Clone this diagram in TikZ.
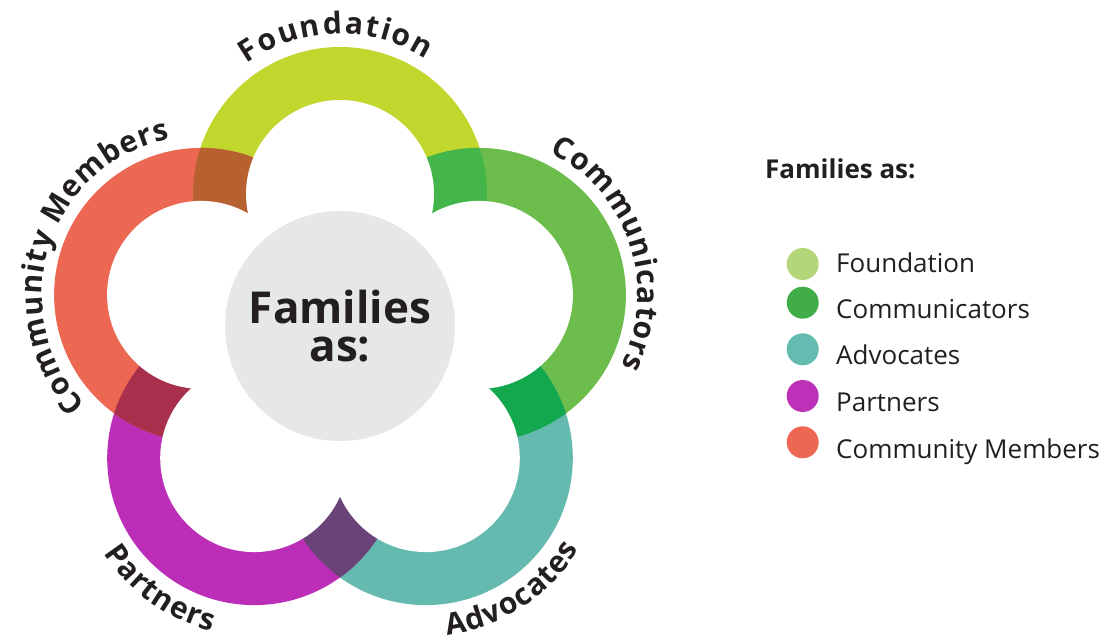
\documentclass[tikz,border=0pt]{standalone}
\usepackage{fontspec}
\setmainfont{Open Sans}
\IfFontExistsTF{Open Sans SemiBold}{\newfontfamily\semib{Open Sans SemiBold}}{\newcommand\semib{\bfseries}}
\usetikzlibrary{decorations.text}
\definecolor{cF}{HTML}{C1D72E}
\definecolor{cC}{HTML}{6CBD4B}
\definecolor{cA}{HTML}{64BAAF}
\definecolor{cP}{HTML}{BC2EB8}
\definecolor{cM}{HTML}{EC6852}
\definecolor{oFC}{HTML}{43B549}
\definecolor{oCA}{HTML}{13A84E}
\definecolor{oAP}{HTML}{6A4379}
\definecolor{oPM}{HTML}{A8304D}
\definecolor{oMF}{HTML}{B86130}
\definecolor{lF}{HTML}{B3D67B}
\definecolor{lC}{HTML}{41AD49}
\definecolor{lA}{HTML}{66BBB0}
\definecolor{lP}{HTML}{BD31B9}
\definecolor{lM}{HTML}{EC6852}
\definecolor{grayc}{HTML}{E6E7E8}
\definecolor{txt}{HTML}{231F20}
\newcommand\lblfont{\semib\fontsize{30}{36}\selectfont}
\begin{document}
\begin{tikzpicture}[x=1pt,y=1pt,
  lbl/.style={decorate,decoration={text along path,text={#1},text align=fit to path,text color=txt}},
  legdot/.style={circle,inner sep=0pt,minimum size=32},
  legtxt/.style={anchor=base west,inner sep=0pt,text=txt,font=\fontsize{26}{30}\selectfont}]
\useasboundingbox (0,0) rectangle (1110,642);
\coordinate (P) at (340,302);
\coordinate (L) at (340,448);
\coordinate (G) at (478.9,347.1);
\coordinate (T) at (425.8,183.9);
\coordinate (U) at (254.2,183.9);
\coordinate (R) at (201.1,347.1);
% outer disks
\fill[cF] (L) circle[radius=147];
\fill[cC] (G) circle[radius=147];
\fill[cA] (T) circle[radius=147];
\fill[cP] (U) circle[radius=147];
\fill[cM] (R) circle[radius=147];
% overlaps
\begin{scope}\clip (L) circle[radius=147]; \fill[oFC] (G) circle[radius=147];\end{scope}
\begin{scope}\clip (G) circle[radius=147]; \fill[oCA] (T) circle[radius=147];\end{scope}
\begin{scope}\clip (T) circle[radius=147]; \fill[oAP] (U) circle[radius=147];\end{scope}
\begin{scope}\clip (U) circle[radius=147]; \fill[oPM] (R) circle[radius=147];\end{scope}
\begin{scope}\clip (R) circle[radius=147]; \fill[oMF] (L) circle[radius=147];\end{scope}
% holes
\foreach \c in {L,G,T,U,R} \fill[white] (\c) circle[radius=94];
% centre
\fill[grayc] (340,316) circle[radius=115];
\node[anchor=base,inner sep=0pt,text=txt,font=\semib\fontsize{44}{44}\selectfont] (fam) at (340,318) {Families};
\node[anchor=base,inner sep=0pt,text=txt,font=\semib\fontsize{44}{44}\selectfont] (as) at (340,280.3) {as:};
% curved labels
\path[lbl={|\lblfont|Foundation}] ([shift={(125.5:160)}]L) arc[start angle=125.5,end angle=57.5,radius=160];
\path[lbl={|\lblfont|Communicators}] ([shift={(63.5:159)}]G) arc[start angle=63.5,end angle=-26.7,radius=159];
\path[lbl={|\lblfont|Community Members}] ([shift={(223.6:159)}]R) arc[start angle=223.6,end angle=101.4,radius=159];
\path[lbl={|\lblfont|Advocates}] ([shift={(-83:178)}]T) arc[start angle=-83,end angle=-30.7,radius=178];
\path[lbl={|\lblfont|Partners}] ([shift={(212.4:178)}]U) arc[start angle=212.4,end angle=256.3,radius=178];
% legend
\node[anchor=base west,inner sep=0pt,text=txt,font=\semib\fontsize{26}{30}\selectfont] (title) at (765,463.7) {Families as:};
\node[legdot,fill=lF] (d1) at (802.7,378) {};
\node[legdot,fill=lC] (d2) at (802.7,339.3) {};
\node[legdot,fill=lA] (d3) at (802.7,292.7) {};
\node[legdot,fill=lP] (d4) at (802.7,246) {};
\node[legdot,fill=lM] (d5) at (802.7,199.7) {};
\node[legtxt] (t1) at (836,369.7) {Foundation};
\node[legtxt] (t2) at (836,323.7) {Communicators};
\node[legtxt] (t3) at (836,277) {Advocates};
\node[legtxt] (t4) at (836,230.3) {Partners};
\node[legtxt] (t5) at (836,183.7) {Community Members};
\end{tikzpicture}
\end{document}
